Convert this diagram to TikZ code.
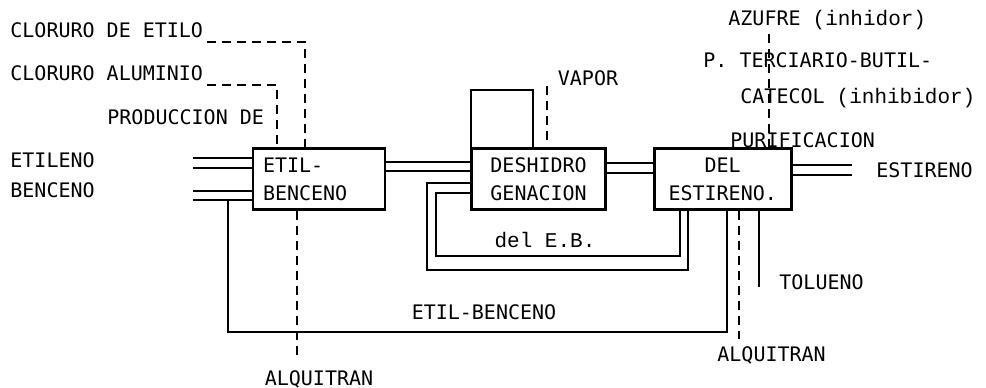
\documentclass[tikz,border=0pt]{standalone}
\usepackage{fontspec}
\setmainfont{DejaVu Sans Mono}
\setmonofont{Liberation Mono}
\usepackage{tikz}
\usetikzlibrary{positioning,calc}
\newcommand{\twr}[1]{{\ttfamily\fontsize{10.5}{12}\selectfont #1}}
\tikzset{
  procbox/.style={rectangle,draw,line width=1.3pt,minimum height=30.5pt,
    text width=#1,inner xsep=5pt,inner ysep=3pt,align=center,
    font=\fontsize{10}{14}\selectfont},
  procbox/.default=56pt,
  pipe/.style={draw,line width=1.3pt},
  dashline/.style={draw,line width=1.3pt,dash pattern=on 4.5pt off 3pt},
  lbl/.style={inner sep=2pt,font=\fontsize{10}{12}\selectfont}
}
\begin{document}
\begin{tikzpicture}[x=0.5pt,y=-0.5pt,node distance=42pt]
  \useasboundingbox (0,0) rectangle (986,387);

  \node[procbox=56pt, align=left] (etil) at (319,179) {ETIL-\\BENCENO};
  \node[procbox=57pt, right=42pt of etil] (deshid) {DESHIDRO\\GENACION};
  \node[procbox=58.5pt, right=23pt of deshid] (purif) {DEL\\ESTIRENO.};

  \node[lbl, anchor=west] (cletilo) at (6,30) {CLORURO DE ETILO};
  \node[lbl, anchor=west] (clalum) at (6,73) {CLORURO ALUMINIO};
  \node[lbl, anchor=west] (prod) at (103,117) {PRODUCCION DE};
  \node[lbl, anchor=west] (etileno) at (6,160) {ETILENO};
  \node[lbl, anchor=west] (benceno) at (6,190) {BENCENO};
  \node[lbl] (alq1) at (319,379) {ALQUITRAN};
  \node[lbl] (recup) at (484,312) {ETIL-BENCENO};
  \node[lbl] (vapor) at (588,78) {VAPOR};
  \node[lbl] (eb) at (545,240) {\twr{del E.B.}};
  \node[lbl, anchor=west] (azufre) at (724,20) {AZUFRE \twr{(inhidor)}};
  \node[lbl, anchor=west] (terc) at (699,60) {P. TERCIARIO-BUTIL-};
  \node[lbl, anchor=west] (catecol) at (736,98) {CATECOL \twr{(inhibidor)}};
  \node[lbl, anchor=west] (purtxt) at (726,140) {PURIFICACION};
  \node[lbl, anchor=west] (estir) at (872,170) {ESTIRENO};
  \node[lbl, anchor=west] (tolueno) at (775,282) {TOLUENO};
  \node[lbl, anchor=west] (alq2) at (713,355) {ALQUITRAN};

  \coordinate (inlet) at (193,180);
  \coordinate (outlet) at (852,170);
  \coordinate (rec) at (228,332);

  \draw[pipe] (inlet |- 0,158) -- (etil.west |- 0,158);
  \draw[pipe] (inlet |- 0,168) -- (etil.west |- 0,168);
  \draw[pipe] (inlet |- 0,191) -- (etil.west |- 0,191);
  \draw[pipe] (inlet |- 0,200) -- (etil.west |- 0,200);
  \draw[pipe] (etil.east |- 0,162) -- (deshid.west |- 0,162);
  \draw[pipe] (etil.east |- 0,171) -- (deshid.west |- 0,171);
  \draw[pipe] (deshid.east |- 0,163) -- (purif.west |- 0,163);
  \draw[pipe] (deshid.east |- 0,173) -- (purif.west |- 0,173);
  \draw[pipe] (purif.east |- 0,165) -- (outlet |- 0,165);
  \draw[pipe] (purif.east |- 0,175) -- (outlet |- 0,175);

  \draw[pipe] (rec |- 0,200) -- (rec) -| (purif.south -| 727,0);
  \draw[pipe] (deshid.west |- 0,183) -| (427,270) -| (purif.south -| 688,0);
  \draw[pipe] (deshid.west |- 0,193) -| (436,256) -| (purif.south -| 680,0);
  \draw[pipe] (deshid.north -| 471,0) |- (533,90) -- (deshid.north -| 533,0);
  \draw[pipe] (purif.south -| 759,0) -- ++(0,76);

  \draw[dashline] (cletilo.east |- 0,42) -| (etil.north -| 305,0);
  \draw[dashline] (clalum.east |- 0,85) -| (etil.north -| 277,0);
  \draw[dashline] (etil.south -| 297,0) -- ++(0,147);
  \draw[dashline] ($(deshid.north -| 547,0)+(0,-7)$) -- (547,86);
  \draw[dashline] (azufre.south -| 769,0) -- (purif.north -| 769,0);
  \draw[dashline] (purif.south -| 739,0) -- ++(0,128);
\end{tikzpicture}
\end{document}
